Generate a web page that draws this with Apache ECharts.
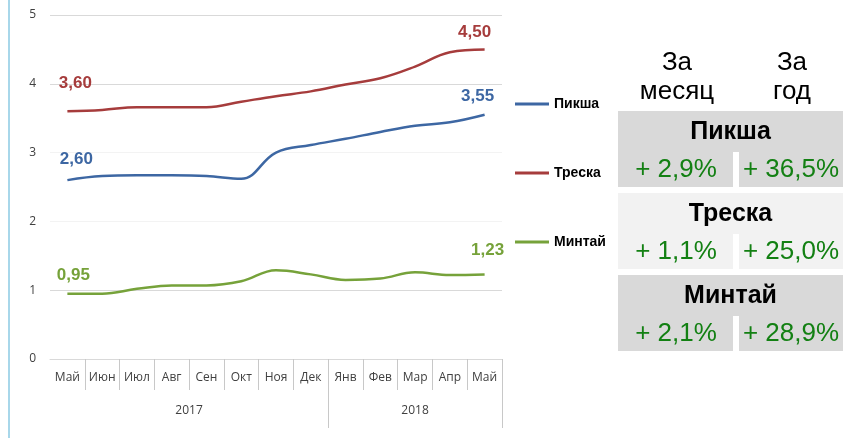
<!DOCTYPE html>
<html>
<head>
<meta charset="utf-8">
<script src="https://cdn.jsdelivr.net/npm/echarts@6/dist/echarts.min.js"></script>
<style>
  html, body { margin: 0; padding: 0; background: #fff; }
  #chart { width: 844px; height: 438px; }
</style>
</head>
<body>
<div id="chart"></div>
<script>
// chart data
const months = ['Май', 'Июн', 'Июл', 'Авг', 'Сен', 'Окт', 'Ноя', 'Дек', 'Янв', 'Фев', 'Мар', 'Апр', 'Май']
const years = ['2017', '2018']
const yearSpans = [8, 5]
const pikshaValues = [2.60, 2.66, 2.67, 2.67, 2.66, 2.62, 3.00, 3.11, 3.20, 3.30, 3.39, 3.44, 3.55]
const treskaValues = [3.60, 3.62, 3.66, 3.66, 3.66, 3.74, 3.82, 3.89, 3.99, 4.08, 4.25, 4.46, 4.50]
const mintaiValues = [0.95, 0.95, 1.02, 1.07, 1.07, 1.13, 1.29, 1.23, 1.15, 1.17, 1.26, 1.22, 1.23]

// table data
const colHeaders = [['За', 'месяц'], ['За', 'год']]
const tableFish = ['Пикша', 'Треска', 'Минтай']
const monthChange = [2.9, 1.1, 2.1]
const yearChange = [36.5, 25.0, 28.9]

const fmt2 = v => v.toFixed(2).replace('.', ',')
const fmtPct = v => '+ ' + v.toFixed(1).replace('.', ',') + '%'

// year axis positions
let acc = 0
const yearTicks = []
const yearCenters = []
yearSpans.forEach(s => {
  yearCenters.push(acc + s / 2)
  acc += s
  yearTicks.push(acc)
})

const font = '"Liberation Sans", Arial, sans-serif'
const axisFont = '"Open Sans", sans-serif'

function lineSeries(name, values, color, firstOffset, lastOffset) {
  const last = values.length - 1
  return {
    name,
    type: 'line',
    smooth: 0.4,
    symbol: 'circle',
    symbolSize: 0,
    lineStyle: { color, width: 2.5 },
    itemStyle: { color },
    label: { show: false },
    data: values.map((v, i) => {
      if (i !== 0 && i !== last) return v
      return {
        value: v,
        label: {
          show: true,
          position: 'inside',
          offset: i === 0 ? firstOffset : lastOffset,
          formatter: p => fmt2(p.value),
          color,
          fontFamily: font,
          fontWeight: 'bold',
          fontSize: 17
        }
      }
    })
  }
}

const graphics = [
  { type: 'line', shape: { x1: 9, y1: 0, x2: 9, y2: 438 }, style: { stroke: '#a8d7ea', lineWidth: 2 } }
]

const colX = [677, 792]
colHeaders.forEach((lines, c) => {
  lines.forEach((t, k) => {
    graphics.push({
      type: 'text', x: colX[c], y: 63 + k * 29,
      style: { text: t, fontSize: 26, fontFamily: font, fill: '#000', align: 'center', verticalAlign: 'middle' }
    })
  })
})

const groupFill = ['#d9d9d9', '#f2f2f2', '#d9d9d9']
tableFish.forEach((name, i) => {
  const top = 111 + i * 82
  graphics.push(
    { type: 'rect', shape: { x: 618, y: top, width: 225, height: 41 }, style: { fill: groupFill[i] } },
    { type: 'rect', shape: { x: 618, y: top + 41, width: 115, height: 35 }, style: { fill: groupFill[i] } },
    { type: 'rect', shape: { x: 739, y: top + 41, width: 104, height: 35 }, style: { fill: groupFill[i] } },
    {
      type: 'text', x: 730.5, y: top + 21,
      style: { text: name, fontSize: 25, fontWeight: 'bold', fontFamily: font, fill: '#000', align: 'center', verticalAlign: 'middle' }
    },
    {
      type: 'text', x: 676, y: top + 59,
      style: { text: fmtPct(monthChange[i]), fontSize: 26, fontFamily: font, fill: '#138013', align: 'center', verticalAlign: 'middle' }
    },
    {
      type: 'text', x: 791, y: top + 59,
      style: { text: fmtPct(yearChange[i]), fontSize: 26, fontFamily: font, fill: '#138013', align: 'center', verticalAlign: 'middle' }
    }
  )
})

const myChart = echarts.init(document.getElementById('chart'))
myChart.setOption({
  animation: false,
  grid: { left: 50, right: 342, top: 15, bottom: 79 },
  legend: {
    orient: 'vertical',
    left: 510,
    top: 92,
    itemGap: 55,
    itemWidth: 34,
    itemHeight: 3,
    icon: 'rect',
    selectedMode: false,
    textStyle: { fontFamily: font, fontWeight: 'bold', fontSize: 14, color: '#000' },
    data: ['Пикша', 'Треска', 'Минтай']
  },
  xAxis: [
    {
      type: 'category',
      data: months,
      boundaryGap: true,
      axisLine: { lineStyle: { color: '#d9d9d9' } },
      axisTick: { show: true, interval: i => i !== 0, length: 31, lineStyle: { color: '#c8c8c8' } },
      axisLabel: { interval: 0, margin: 13, fontSize: 12, fontFamily: axisFont, color: '#404040' },
      splitLine: { show: false }
    },
    {
      type: 'value',
      min: 0,
      max: months.length,
      position: 'bottom',
      axisLine: { show: false },
      splitLine: { show: false },
      axisTick: { show: true, customValues: yearTicks, length: 69, lineStyle: { color: '#c8c8c8' } },
      axisLabel: {
        customValues: yearCenters,
        margin: 46,
        fontSize: 12,
        fontFamily: axisFont,
        color: '#404040',
        formatter: v => years[yearCenters.indexOf(v)]
      }
    }
  ],
  yAxis: {
    type: 'value',
    min: 0,
    max: 5,
    interval: 1,
    axisLine: { show: false },
    axisTick: { show: false },
    axisLabel: { margin: 14, fontSize: 12, fontFamily: axisFont, color: '#404040' },
    splitLine: { lineStyle: { color: ['#d9d9d9', '#d9d9d9', '#f3f3f3', '#f3f3f3', '#d9d9d9', '#d9d9d9'] } }
  },
  series: [
    lineSeries('Пикша', pikshaValues, '#3d67a3', [9, -21], [-7, -18]),
    lineSeries('Треска', treskaValues, '#a63c3c', [8, -28], [-10, -17]),
    lineSeries('Минтай', mintaiValues, '#76a23a', [6, -18], [3, -24])
  ],
  graphic: graphics
})
</script>
</body>
</html>
